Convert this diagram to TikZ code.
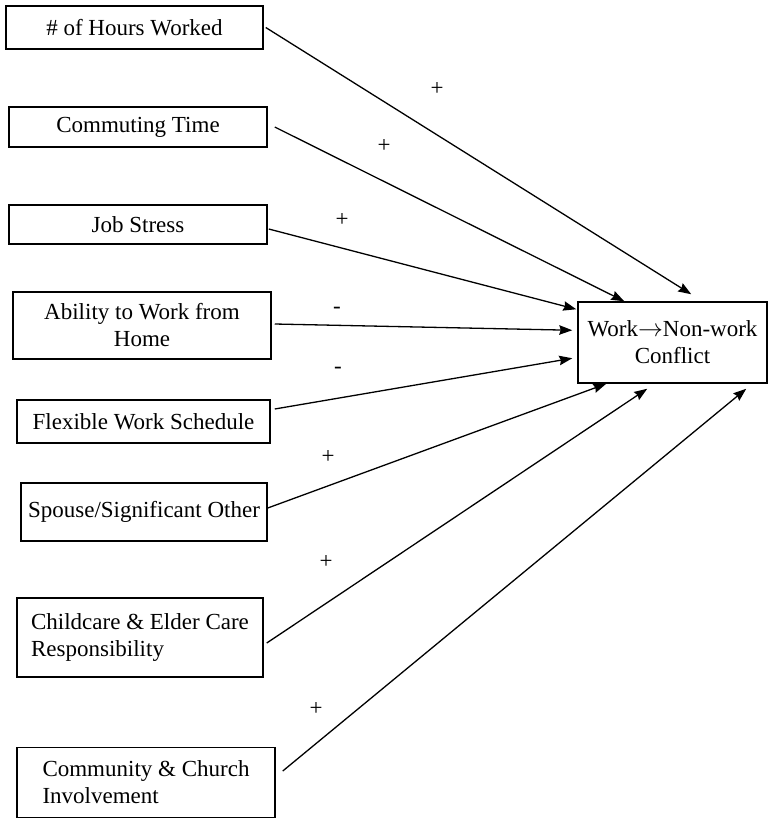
\documentclass[tikz,border=0pt]{standalone}
\usepackage{fontspec}
\setmainfont{Liberation Serif}
\usetikzlibrary{arrows.meta}

\tikzset{
  factor/.style={draw=black, line width=1.5pt, fill=white, inner sep=0pt,
    align=center, font=\fontsize{23}{27}\selectfont},
  leftfactor/.style={factor, align=left},
  effect/.style={draw=black, line width=1.3pt,
    -{Stealth[length=13pt, width=9.5pt, inset=1.5pt]}},
  sign/.style={inner sep=0pt, font=\fontsize{23}{27}\selectfont}
}

\begin{document}
\begin{tikzpicture}[x=1pt, y=-1pt]
\useasboundingbox (0,0) rectangle (768,820);

% predictor boxes
\node[factor, minimum width=257pt, minimum height=43pt] (hours) at (134.5,27.5) {\# of Hours Worked};
\node[factor, minimum width=258pt, minimum height=40pt] (commute) at (138,127) {Commuting Time};
\node[factor, minimum width=258pt, minimum height=39pt] (stress) at (138,224.5) {Job Stress};
\node[factor, minimum width=258pt, minimum height=67pt] (home) at (142,325.5) {Ability to Work from\\Home};
\node[factor, minimum width=253pt, minimum height=43pt] (flex) at (143.5,421.5) {Flexible Work Schedule};
\node[factor, minimum width=246pt, minimum height=58pt] (spouse) at (144,512) {Spouse/Significant Other};
\node[leftfactor, minimum width=246pt, minimum height=79pt] (care) at (140,637.5) {Childcare \& Elder Care\\Responsibility};
\node[leftfactor, minimum width=258pt, minimum height=70pt] (church) at (146,782.5) {Community \& Church\\Involvement};

% outcome box
\node[factor, minimum width=189pt, minimum height=81pt] (conflict) at (672.5,342.5) {Work$\rightarrow$Non-work\\Conflict};

% effects
\draw[effect] ([xshift=2pt]hours.east) -- ([xshift=114pt, yshift=7pt]conflict.north west);
\draw[effect] ([xshift=7pt]commute.east) -- ([xshift=47pt]conflict.north west);
\draw[effect] ([xshift=1pt, yshift=-4.5pt]stress.east) -- ([xshift=-1pt, yshift=-8pt]conflict.north west);
\draw[effect] ([xshift=3pt, yshift=1.5pt]home.east) -- ([xshift=-5pt, yshift=-29pt]conflict.north west);
\draw[effect] ([xshift=4pt, yshift=12.5pt]flex.east) -- ([xshift=-5pt, yshift=-57pt]conflict.north west);
\draw[effect] ([yshift=4pt]spouse.east) -- ([xshift=29pt]conflict.south west);
\draw[effect] ([xshift=3pt, yshift=-5.5pt]care.east) -- ([xshift=70pt, yshift=-5pt]conflict.south west);
\draw[effect] ([xshift=7pt, yshift=11.5pt]church.east) -- ([xshift=169pt, yshift=-5pt]conflict.south west);

% signs of the effects
\node[sign] (s1) at (437,89) {+};
\node[sign] (s2) at (384,146) {+};
\node[sign] (s3) at (342,220) {+};
\node[sign] (s4) at (337,310) {-};
\node[sign] (s5) at (338,370) {-};
\node[sign] (s6) at (328,457) {+};
\node[sign] (s7) at (326,562) {+};
\node[sign] (s8) at (316,709) {+};
\end{tikzpicture}
\end{document}
